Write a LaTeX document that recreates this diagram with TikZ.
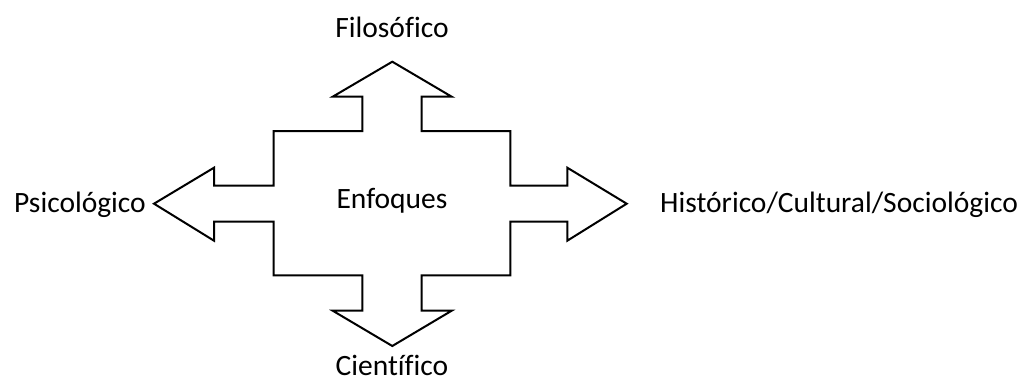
\documentclass[tikz,border=0pt]{standalone}
\usepackage{fontspec}
\setmainfont[Ligatures=NoCommon]{Carlito}
\begin{document}
\begin{tikzpicture}[x=1pt,y=-1pt,
  lbl/.style={font=\fontsize{29.5}{34}\selectfont, inner sep=0pt},
  crossarrow/.style={draw=black, line width=2pt, line join=miter, fill=white}]
\useasboundingbox (0,0) rectangle (1026,383);
\draw[crossarrow] (392.3,61.7) -- (451.7,96.7) -- (421.7,96.7) -- (421.7,131) -- (510.3,131)
  -- (510.3,185.7) -- (567.3,185.7) -- (567.3,167.7) -- (626.7,203.7) -- (567.3,240.7)
  -- (567.3,221.7) -- (510.3,221.7) -- (510.3,275.3) -- (421.7,275.3) -- (421.7,310.7)
  -- (451.7,310.7) -- (392.3,346) -- (332.7,310.7) -- (362.3,310.7) -- (362.3,275.3)
  -- (273.7,275.3) -- (273.7,221.7) -- (214,221.7) -- (214,240.7) -- (154,203.7)
  -- (214,167.7) -- (214,185.7) -- (273.7,185.7) -- (273.7,131) -- (362.3,131)
  -- (362.3,96.7) -- (332.7,96.7) -- cycle;
\node[lbl] (center) at (392,201) {Enfoques};
\node[lbl] (top) at (392,27) {Filosófico};
\node[lbl] (bottom) at (392,365) {Científico};
\node[lbl, anchor=east] (left) at (146,205) {Psicológico};
\node[lbl, anchor=west] (right) at (660,205) {Histórico/Cultural/Sociológico};
\end{tikzpicture}
\end{document}
